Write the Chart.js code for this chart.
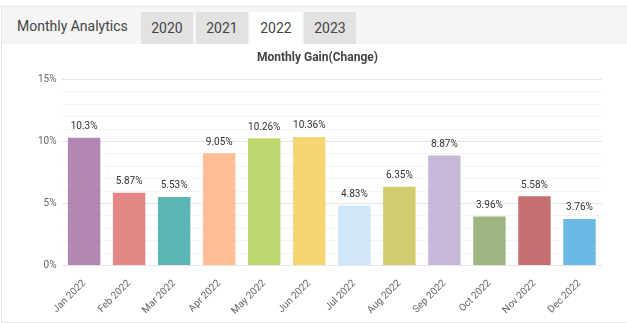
<!DOCTYPE html>
<html>
<head>
<meta charset="utf-8">
<script src="https://cdn.jsdelivr.net/npm/chart.js@4.4.0/dist/chart.umd.min.js"></script>
<style>
    body { margin: 0; background: #fff; font-family: Roboto, sans-serif; }
    .panel { position: absolute; left: 1px; top: 6px; width: 640px; height: 315px; border: 1px solid #e6e6e6; }
    .head { position: absolute; left: 0; top: 0; right: 0; height: 37px; background: #f5f5f5; }
    .head h3 { position: absolute; left: 15px; top: 11px; margin: 0; font-size: 14px; font-weight: 400; color: #444; }
    .tab { position: absolute; top: 5px; width: 52px; height: 32px; line-height: 32px; text-align: center; font-size: 14px; color: #444; background: #e2e2e2; }
    .tab.active { background: #fff; }
    .wrap { position: absolute; left: 1px; top: 37px; width: 625px; height: 277px; }
</style>
</head>
<body>
<div class="panel">
    <div class="head">
        <h3>Monthly Analytics</h3>
        <div class="tab" style="left:139px">2020</div>
        <div class="tab" style="left:194px">2021</div>
        <div class="tab active" style="left:248px">2022</div>
        <div class="tab" style="left:302px">2023</div>
    </div>
    <div class="wrap"><canvas id="barChart"></canvas></div>
</div>
<script>
const CHART = document.getElementById("barChart");

const months = ["Jan 2022", "Feb 2022", "Mar 2022", "Apr 2022", "May 2022", "Jun 2022",
                "Jul 2022", "Aug 2022", "Sep 2022", "Oct 2022", "Nov 2022", "Dec 2022"];
const gains = [10.3, 5.87, 5.53, 9.05, 10.26, 10.36, 4.83, 6.35, 8.87, 3.96, 5.58, 3.76];
const barColors = ["#b385b2", "#e38786", "#5bb5b4", "#ffbe96", "#bfd76f", "#f6d573",
                   "#d0e7fa", "#d1cc6d", "#c6b8d8", "#9db580", "#c67071", "#6bb9e4"];
const yTicks = [0, 5, 10, 15];

// value labels over each bar
const valueLabels = {
    id: "valueLabels",
    afterDatasetsDraw(chart) {
        const ctx = chart.ctx;
        const meta = chart.getDatasetMeta(0);
        ctx.save();
        ctx.font = "10px Roboto";
        ctx.fillStyle = "#333";
        ctx.textAlign = "center";
        ctx.textBaseline = "bottom";
        meta.data.forEach((bar, i) => {
            ctx.fillText(gains[i] + "%", bar.x, bar.y - 6);
        });
        ctx.restore();
    }
};

Chart.defaults.font.family = "Roboto";

const barChart = new Chart(CHART, {
    type: 'bar',
    data: {
        labels: months,
        datasets: [{
            label: 'Monthly Gain',
            data: gains,
            backgroundColor: barColors,
            borderWidth: 0
        }]
    },
    options: {
        responsive: true,
        maintainAspectRatio: false,
        animation: false,
        layout: { padding: { left: 30, right: 26, bottom: 0 } },
        plugins: {
            legend: { display: false },
            tooltip: { enabled: false },
            title: {
                display: true,
                text: 'Monthly Gain(Change)',
                color: '#444',
                font: { size: 12, weight: 'bold' },
                padding: { top: 7, bottom: 14 }
            }
        },
        scales: {
            x: {
                grid: { display: false },
                border: { display: false },
                ticks: { color: '#666', font: { size: 10 }, minRotation: 45, maxRotation: 45, padding: 4 }
            },
            y: {
                min: 0,
                max: 15,
                border: { display: false },
                grid: {
                    drawTicks: false,
                    color: (c) => yTicks.includes(c.tick.value) ? '#e6e6e6' : '#f4f4f4'
                },
                ticks: {
                    stepSize: 1,
                    color: '#666',
                    font: { size: 10 },
                    padding: 5,
                    autoSkip: false,
                    callback: (v) => yTicks.includes(v) ? v + '%' : ''
                }
            }
        }
    },
    plugins: [valueLabels]
});
</script>
</body>
</html>
